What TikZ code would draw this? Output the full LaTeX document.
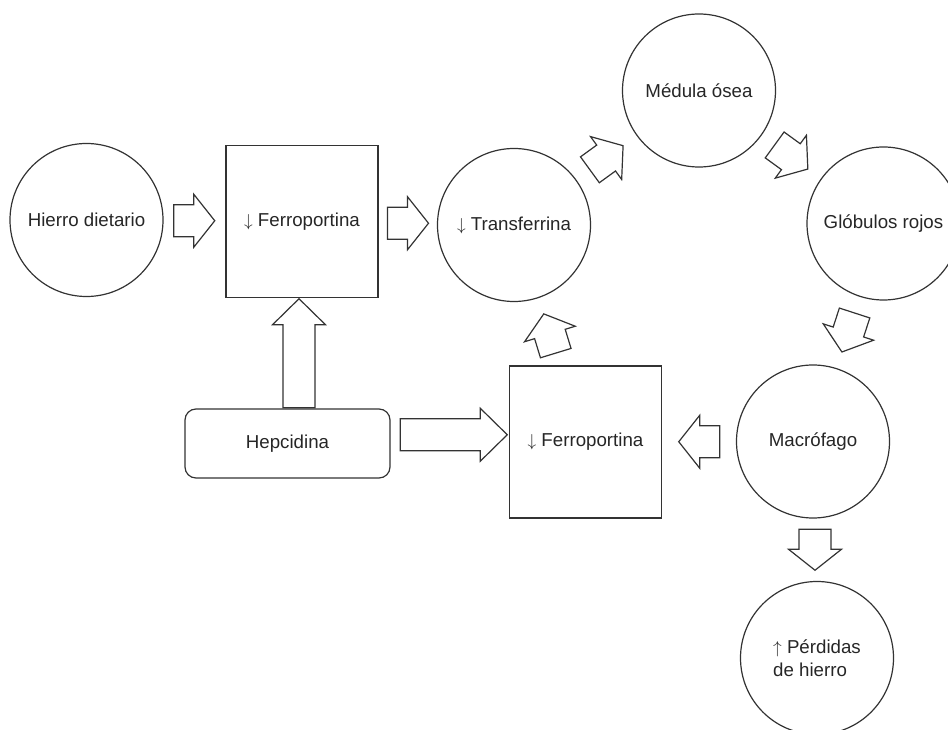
\documentclass[tikz,border=0pt]{standalone}
\usepackage{fontspec}
\setmainfont{Liberation Sans}
\usetikzlibrary{calc,positioning}

\begin{document}
\begin{tikzpicture}[
      x=1pt, y=1pt,
      font=\fontsize{18.7}{23.5}\selectfont,
      circ/.style={circle, draw=black!80, line width=1.2pt, minimum size=153pt, inner sep=0pt, text=black!85},
      sq/.style={rectangle, draw=black!80, line width=1.2pt, minimum width=152pt, minimum height=152pt, inner sep=0pt, text=black!85},
      rbox/.style={rectangle, rounded corners=11pt, draw=black!80, line width=1.2pt, minimum width=205pt, minimum height=69pt, text=black!85},
      blk len/.store in=\blklen, blk len=41,
      blk head/.store in=\blkhead, blk head=21,
      blk/.pic={\draw[black!80, line width=1.2pt]
          (-\blklen/2,-16) -- (\blklen/2-\blkhead,-16) -- (\blklen/2-\blkhead,-26.5)
          -- (\blklen/2,0) -- (\blklen/2-\blkhead,26.5) -- (\blklen/2-\blkhead,16)
          -- (-\blklen/2,16) -- cycle;}
    ]
    \useasboundingbox (0,0) rectangle (948,729);
    \clip (0,0) rectangle (948,729);

    % Upper row: iron uptake and the red cell cycle
    \node[circ] (hierro)   at (86.5,509)   {Hierro dietario};
    \node[sq]   (ferroA)   at (302,507.5)  {$\downarrow$ Ferroportina};
    \node[circ] (transf)   at (514,504)    {$\downarrow$ Transferrina};
    \node[circ] (medula)   at (699,638.5)  {Médula ósea};
    \node[circ] (globulos) at (883.5,505.5) {Glóbulos rojos};

    % Lower row
    \node[rbox] (hepci)    at (287.5,285.5) {Hepcidina};
    \node[sq]   (ferroB)   at (585.5,287)  {$\downarrow$ Ferroportina};
    \node[circ] (macro)    at (813,287.5)  {Macrófago};
    \node[circ, align=left] (perdidas) at (817,71) {$\uparrow$ Pérdidas\\de hierro};

    % Block arrows
    \pic at ($(hierro)!0.5!(ferroA)$) {blk};
    \pic at ($(ferroA)!0.5!(transf)$) {blk};
    \pic[rotate=36]   at ($(transf)!0.5!(medula)$) {blk};
    \pic[rotate=-36]  at ($(medula)!0.5!(globulos)$) {blk};
    \pic[rotate=-108] at ($(globulos)!0.5!(macro)$) {blk};
    \pic[rotate=-90]  at ($(macro)!0.5!(perdidas)$) {blk};
    \pic[rotate=180]  at ($(macro)!0.5!(ferroB)$) {blk};
    \pic[rotate=107]  at ($(ferroB)!0.5!(transf)$) {blk};
    \pic[rotate=90, blk len=109, blk head=26] at ($(hepci.north -| ferroA.south)!0.5!(ferroA.south) + (-3,0)$) {blk};
    \pic[blk len=107, blk head=27] at ($(hepci.east)!0.5!(ferroB.west) + (4,8)$) {blk};
  \end{tikzpicture}
\end{document}
